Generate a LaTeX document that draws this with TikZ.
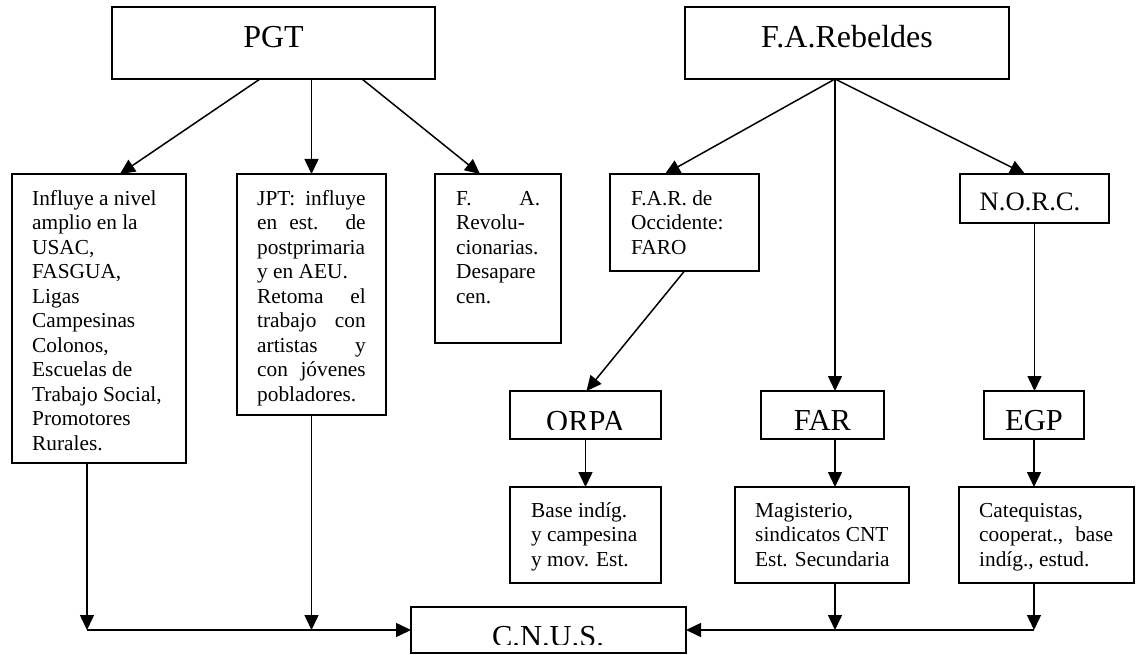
\documentclass[tikz,border=0pt]{standalone}
\usepackage{fontspec}
\setmainfont{Liberation Serif}
\usetikzlibrary{arrows.meta}
\newcommand\jl[1]{\makebox[\linewidth][s]{#1}}
\tikzset{
  bx/.style={draw, line width=1.8pt, inner sep=0pt, outer sep=0pt, anchor=north west},
  arr/.style={line width=1.5pt, -{Triangle[length=15pt,width=14pt]}},
  ttl/.style={inner sep=0pt, anchor=base, font=\fontsize{32}{38}\selectfont},
  mid/.style={inner sep=0pt, anchor=base, font=\fontsize{30.5}{36}\selectfont},
  nrc/.style={inner sep=0pt, anchor=base, font=\fontsize{26.67}{32}\selectfont},
  txt/.style={inner sep=0pt, anchor=base west, font=\fontsize{21.33}{24.5}\selectfont},
}
\begin{document}
\begin{tikzpicture}[x=1pt,y=-1pt]
\useasboundingbox (0,0) rectangle (1139,655);
% boxes
\node[bx, minimum width=323pt, minimum height=72pt] (pgt) at (112,7) {};
\node[bx, minimum width=324pt, minimum height=72pt] (reb) at (685,7) {};
\node[bx, minimum width=174pt, minimum height=289pt] (box1) at (12,174) {};
\node[bx, minimum width=149pt, minimum height=241pt] (jpt) at (237,174) {};
\node[bx, minimum width=126pt, minimum height=169pt] (fa) at (435,174) {};
\node[bx, minimum width=149pt, minimum height=97pt] (faro) at (610,174) {};
\node[bx, minimum width=149pt, minimum height=49pt] (norc) at (960,174) {};
\node[bx, minimum width=151pt, minimum height=48pt] (orpa) at (510,391) {};
\node[bx, minimum width=123pt, minimum height=48pt] (far) at (761,391) {};
\node[bx, minimum width=100pt, minimum height=48pt] (egp) at (984,391) {};
\node[bx, minimum width=151pt, minimum height=96pt] (base) at (510,487) {};
\node[bx, minimum width=174pt, minimum height=96pt] (magi) at (735,487) {};
\node[bx, minimum width=175pt, minimum height=96pt] (cate) at (959,487) {};
\node[bx, minimum width=275pt, minimum height=46pt] (cnus) at (411,607) {};
% texts
\node[ttl] (pgtt) at (273.5,48) {PGT};
\node[ttl] (rebt) at (847,48) {F.A.Rebeldes};
\node[nrc] (norct) at (1030,210) {N.O.R.C.};
\node[mid] (fart) at (822.5,430) {FAR};
\node[mid] (egpt) at (1034,430) {EGP};
\begin{scope}
  \clip (orpa.north west) rectangle ([yshift=10pt]orpa.south east);
  \node[mid] (orpat) at (585.5,431) {ORPA};
\end{scope}
\begin{scope}
  \clip (cnus.north west) rectangle ([yshift=9pt]cnus.south east);
  \node[mid] (cnust) at (548,646) {C.N.U.S.};
\end{scope}
\node[txt] (box1t) at (32,205) {\parbox[t]{140pt}{Influye a nivel\\ amplio en la\\ USAC,\\ FASGUA,\\ Ligas\\ Campesinas\\ Colonos,\\ Escuelas de\\ Trabajo Social,\\ Promotores\\ Rurales.}};
\node[txt] (jptt) at (257,205) {\parbox[t]{108.5pt}{\jl{JPT: influye}\\ \jl{en est. de}\\ postprimaria\\ y en AEU.\\ \jl{Retoma el}\\ \jl{trabajo con}\\ \jl{artistas y}\\ \jl{con jóvenes}\\ pobladores.}};
\node[txt] (fat) at (456,205) {\parbox[t]{84pt}{\jl{F. A.}\\ Revolu-\\ cionarias.\\ Desapare\\ cen.}};
\node[txt] (farot) at (631,205) {\parbox[t]{120pt}{F.A.R. de\\ Occidente:\\ FARO}};
\node[txt] (baset) at (531,517) {\parbox[t]{125pt}{Base indíg.\\ y campesina\\ y mov. Est.}};
\node[txt] (magit) at (755,517) {\parbox[t]{150pt}{Magisterio,\\ sindicatos CNT\\ Est. Secundaria}};
\node[txt] (catet) at (979,517) {\parbox[t]{134pt}{Catequistas,\\ \jl{cooperat.,  base}\\ indíg., estud.}};
% connectors
\coordinate (apex) at ([xshift=-12pt]reb.south);
\coordinate (j1) at ([xshift=-324pt]cnus.west);
\draw[arr] ([xshift=-13.5pt]pgt.south) -- ([xshift=21pt]box1.north);
\draw[arr] (pgt.south -| jpt.north) -- (jpt.north);
\draw[arr] ([xshift=88.5pt]pgt.south) -- ([xshift=-18pt]fa.north);
\draw[arr] (apex) -- ([xshift=-19.5pt]faro.north);
\draw[arr] (apex) -- (apex |- far.north);
\draw[arr] (apex) -- ([xshift=-9.5pt]norc.north);
\draw[arr] (faro.south) -- ([xshift=1pt]orpa.north);
\draw[arr] (norc.south) -- (norc.south |- egp.north);
\draw[arr] (orpa.south) -- (base.north);
\draw[arr] (apex |- far.south) -- (apex |- magi.north);
\draw[arr] (egp.south) -- (egp.south |- cate.north);
\draw[arr] (box1.south -| j1) -- (j1);
\draw[arr] (jpt.south) -- (jpt.south |- j1);
\draw[arr] (apex |- magi.south) -- (apex |- j1);
\draw[arr] (egp.south |- cate.south) -- (egp.south |- j1);
\draw[arr] (j1) -- (cnus.west);
\draw[arr] (egp.south |- j1) -- (cnus.east);
\end{tikzpicture}
\end{document}
